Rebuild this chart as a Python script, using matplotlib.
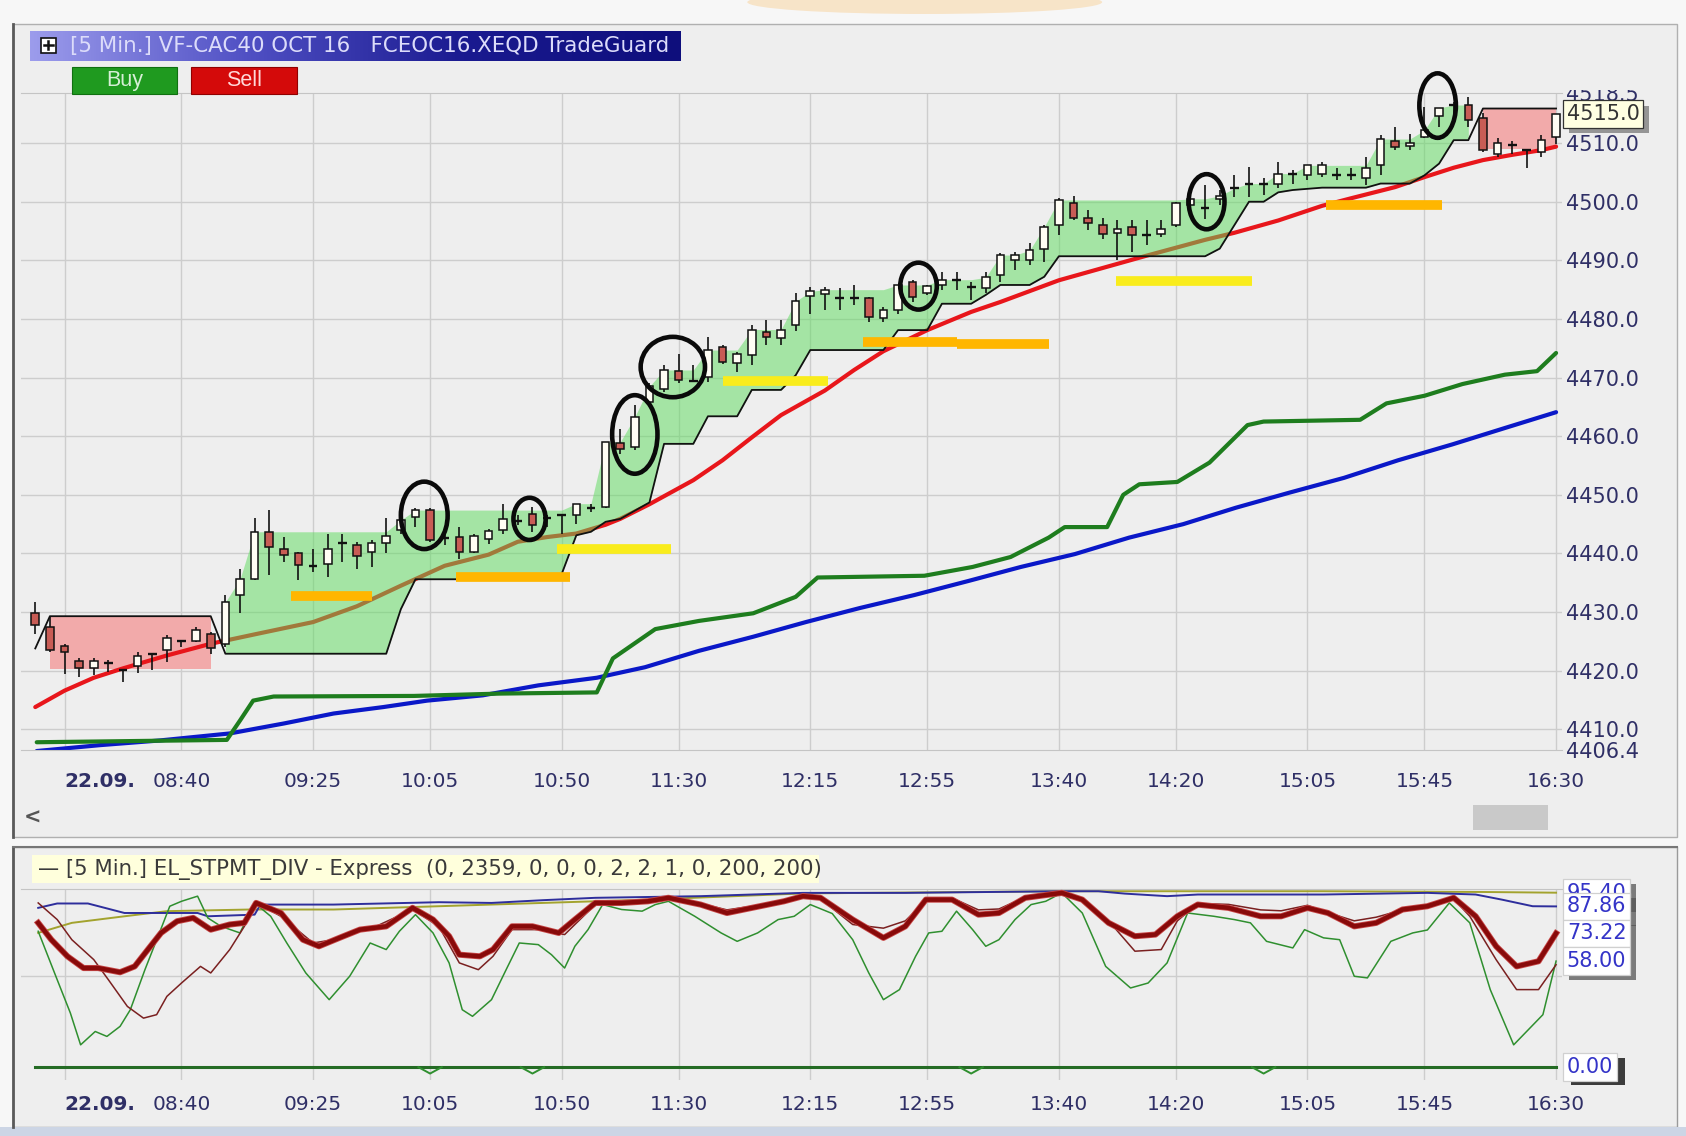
import numpy as np
import matplotlib
matplotlib.use("Agg")
import matplotlib.pyplot as plt
import matplotlib.patheffects as pe
from matplotlib.patches import Rectangle, Ellipse
from matplotlib.lines import Line2D
from matplotlib.colors import LinearSegmentedColormap

# layout positions are measured in pixels of the 1568x1056 reference view
W, H = 1568.0, 1056.0


def fx(x):
    return x / W


def fy(y):
    return 1.0 - y / H


# ---------------- price panel data (5 min bars, bar 0 = 08:00) ----------------
bars = np.arange(-2, 103)
opens = [4429.9, 4427.5, 4424.3, 4421.7, 4420.4, 4421.3, 4420.1, 4420.8, 4422.9, 4423.6, 4425.1, 4425.1, 4426.2,
         4424.6, 4432.9, 4435.7, 4443.7, 4440.7, 4440.0, 4437.8, 4438.2, 4441.8, 4441.4, 4440.3, 4441.8, 4444.0,
         4446.3, 4447.4, 4442.6, 4442.8, 4440.3, 4442.4, 4444.0, 4445.5, 4446.8, 4446.0, 4446.5, 4446.5, 4447.8,
         4447.9, 4458.9, 4458.2, 4465.9, 4468.1, 4471.1, 4469.5, 4470.1, 4475.2, 4472.5, 4473.8, 4477.8, 4476.7,
         4479.0,
         4483.9, 4484.2, 4483.5, 4483.5, 4483.5, 4480.1, 4481.5, 4486.3, 4484.4, 4485.8, 4486.6, 4485.5, 4485.2,
         4487.5, 4490.1, 4490.1, 4492.0, 4496.0, 4499.7, 4497.2, 4496.0, 4494.6, 4495.7, 4494.3, 4494.5, 4496.0,
         4499.5, 4499.0, 4500.5, 4502.3,
         4503.1, 4503.1, 4503.1, 4504.8, 4504.5, 4504.8, 4504.6, 4504.5, 4504.1, 4506.3, 4510.3, 4509.5, 4511.1,
         4514.7, 4516.5, 4516.5, 4514.2, 4508.1, 4509.6, 4508.8, 4508.5, 4511.1]
highs = [4431.7, 4429.2, 4424.5, 4422.1, 4422.1, 4421.8, 4420.2, 4423.2, 4423.0, 4426.1, 4425.2, 4427.5, 4426.6,
         4432.9, 4437.4, 4446.0, 4447.4, 4442.8, 4440.3, 4440.8, 4443.4, 4443.4, 4442.0, 4442.3, 4446.0, 4446.5,
         4447.7, 4447.7, 4443.5, 4444.5, 4443.4, 4444.2, 4448.5, 4446.5, 4447.9, 4446.5, 4446.6, 4448.5, 4448.5,
         4459.0, 4461.3, 4465.3, 4469.0, 4472.1, 4474.1, 4472.1, 4477.0, 4475.5, 4474.4, 4478.9, 4479.8, 4479.8,
         4484.5,
         4485.5, 4485.5, 4485.2, 4485.8, 4483.8, 4482.1, 4485.8, 4486.6, 4485.8, 4488.0, 4488.0, 4486.3, 4488.0,
         4491.2, 4491.5, 4492.9, 4496.0, 4500.6, 4501.0, 4498.6, 4497.2, 4496.9, 4496.9, 4496.9, 4496.9, 4500.0,
         4501.5, 4502.8, 4502.0, 4504.5,
         4505.9, 4504.0, 4506.8, 4505.4, 4506.2, 4506.8, 4505.7, 4505.7, 4507.7, 4511.4, 4512.8, 4511.6, 4516.2,
         4516.0, 4517.0, 4517.9, 4515.1, 4510.8, 4510.3, 4508.8, 4511.4, 4514.8]
lows = [4426.3, 4423.2, 4419.5, 4418.9, 4419.2, 4419.8, 4418.1, 4419.6, 4420.1, 4421.5, 4424.1, 4424.9, 4422.9,
        4424.1, 4429.8, 4435.4, 4436.3, 4438.6, 4435.4, 4436.9, 4436.0, 4438.6, 4437.4, 4437.7, 4440.0, 4443.4,
        4444.5, 4442.0, 4441.5, 4439.1, 4440.0, 4441.7, 4443.4, 4444.8, 4443.7, 4444.5, 4443.4, 4445.1, 4447.1,
        4447.7, 4457.0, 4457.6, 4465.5, 4467.6, 4469.0, 4469.3, 4469.3, 4472.4, 4471.0, 4472.1, 4475.5, 4475.5,
        4478.0,
        4480.9, 4481.5, 4481.5, 4482.4, 4479.5, 4479.5, 4480.9, 4482.9, 4484.1, 4484.9, 4484.9, 4483.2, 4484.4,
        4486.3, 4488.3, 4489.2, 4489.8, 4494.3, 4496.9, 4495.2, 4493.7, 4490.0, 4491.5, 4492.6, 4494.0, 4495.7,
        4498.5, 4497.1, 4499.5, 4500.8,
        4500.8, 4501.1, 4502.3, 4503.1, 4503.7, 4504.2, 4503.7, 4503.7, 4502.8, 4504.5, 4508.8, 4508.8, 4510.8,
        4512.8, 4515.0, 4512.8, 4508.5, 4507.7, 4508.2, 4505.7, 4507.7, 4509.9]
closes = [4427.8, 4423.5, 4423.2, 4420.4, 4421.7, 4421.3, 4420.1, 4422.5, 4422.9, 4425.5, 4425.1, 4427.0, 4423.8,
          4431.7, 4435.6, 4443.7, 4441.1, 4439.7, 4438.0, 4437.8, 4440.7, 4441.8, 4439.5, 4441.8, 4442.9, 4445.7,
          4447.4, 4442.3, 4442.6, 4440.3, 4442.9, 4443.8, 4445.9, 4445.5, 4444.8, 4446.0, 4446.5, 4448.5, 4447.8,
          4459.0, 4457.9, 4463.3, 4468.5, 4471.3, 4469.6, 4469.5, 4474.7, 4472.7, 4474.1, 4478.2, 4477.0, 4478.1,
          4483.0,
          4484.7, 4485.0, 4483.5, 4483.5, 4480.4, 4481.6, 4485.8, 4483.8, 4485.6, 4486.7, 4486.6, 4485.5, 4487.1,
          4490.9, 4490.9, 4491.7, 4495.7, 4500.3, 4497.2, 4496.4, 4494.5, 4495.4, 4494.3, 4494.3, 4495.3, 4499.7,
          4500.5, 4499.0, 4501.0, 4502.3,
          4503.1, 4503.1, 4504.8, 4504.8, 4506.2, 4506.2, 4504.6, 4504.5, 4505.7, 4510.7, 4509.4, 4510.1, 4512.2,
          4516.0, 4516.5, 4513.9, 4508.8, 4510.0, 4509.6, 4508.8, 4510.5, 4515.0]

# TradeGuard trailing stop (black stepped line), one value per bar
stop = [4423.8,
        4429.3, 4429.3, 4429.3, 4429.3, 4429.3, 4429.3, 4429.3, 4429.3, 4429.3, 4429.3, 4429.3, 4429.3,
        4422.9, 4422.9, 4422.9, 4422.9, 4422.9, 4422.9, 4422.9, 4422.9, 4422.9, 4422.9, 4422.9, 4422.9,
        4430.5,
        4435.6, 4435.6, 4435.6, 4435.6, 4435.6, 4435.6, 4435.6, 4435.6, 4435.6, 4435.6,
        4436.5, 4443.1, 4443.7, 4445.4, 4445.9, 4447.3, 4448.7, 4458.7, 4458.7, 4458.7, 4463.4, 4463.4,
        4463.4, 4467.9, 4467.9, 4467.9, 4470.4,
        4474.7, 4474.7, 4474.7, 4474.7, 4474.7, 4474.7,
        4478.1, 4478.1, 4478.1, 4482.6, 4482.6, 4482.6, 4484.1, 4485.8, 4485.8, 4485.8, 4487.2,
        4490.7, 4490.7, 4490.7, 4490.7, 4490.7, 4490.7, 4490.7, 4490.7, 4490.7, 4490.7, 4490.7,
        4492.0, 4496.0, 4500.0, 4500.0, 4501.6, 4502.0, 4502.2, 4502.4, 4502.4, 4502.4, 4502.4,
        4503.1, 4503.1, 4503.1, 4504.5, 4506.5, 4510.5, 4510.5,
        4515.9, 4515.9, 4515.9, 4515.9, 4515.9, 4515.9]
red_zones = [(-1, 10, 4420.3), (97, 102, 4509.0)]   # first bar, last bar, floor
green_zone = (11, 96)

# moving average (red), long averages (green, blue)
ma_x = [-2, 0, 2, 4, 7, 10, 13, 17, 20, 23, 26, 29, 31, 33, 35, 37, 38, 40, 43, 45, 47, 49, 52, 54, 56, 59,
        62, 64, 68, 71, 74, 78, 80, 83, 86, 88, 91, 93, 95, 97, 99, 101, 102]
ma_y = [4413.8, 4416.6, 4418.8, 4420.4, 4422.6, 4424.6, 4426.2, 4428.3, 4431.0, 4434.5, 4437.9, 4439.8,
        4442.0, 4442.8, 4443.4, 4444.9, 4445.9, 4448.4, 4452.5, 4455.9, 4459.8, 4463.6, 4467.8, 4471.3,
        4474.5, 4478.1, 4481.2, 4482.9, 4486.6, 4488.7, 4490.8, 4493.5, 4494.7, 4496.8, 4499.3, 4500.6,
        4502.5, 4504.2, 4505.8, 4507.1, 4508.0, 4508.8, 4509.4]
gma_x = [-1.9, 11.1, 12.0, 12.9, 14.3, 23.9, 29.8, 36.4, 37.5, 40.4, 43.4, 47.1, 50.0, 51.5, 58.8, 62.1,
         64.7, 67.3, 68.4, 71.3, 72.4, 73.5, 76.1, 78.3, 80.9, 82.0, 88.6, 90.4, 93.0, 95.6, 98.5, 100.7, 102.0]
gma_y = [4407.8, 4408.2, 4411.5, 4414.9, 4415.6, 4415.7, 4416.1, 4416.3, 4422.1, 4427.1, 4428.5, 4429.8,
         4432.6, 4435.9, 4436.2, 4437.7, 4439.4, 4442.7, 4444.5, 4444.5, 4450.0, 4451.8, 4452.2, 4455.5,
         4461.9, 4462.5, 4462.8, 4465.6, 4466.9, 4468.9, 4470.5, 4471.1, 4474.2]
bma_x = [-1.9, 2.4, 6.5, 11.3, 15.0, 18.4, 21.8, 24.8, 28.6, 32.4, 36.4, 39.7, 43.4, 47.1, 50.7, 54.4, 58.1,
         61.8, 65.4, 69.1, 72.8, 76.5, 80.1, 83.8, 87.5, 91.2, 94.9, 98.5, 102.0]
bma_y = [4406.3, 4407.3, 4408.1, 4409.3, 4411.0, 4412.7, 4413.8, 4414.9, 4415.8, 4417.5, 4418.8, 4420.6,
         4423.4, 4425.8, 4428.3, 4430.7, 4432.9, 4435.3, 4437.7, 4439.9, 4442.7, 4445.0, 4447.8, 4450.4,
         4452.9, 4455.9, 4458.6, 4461.4, 4464.1]

# hand drawn support marks: first bar, last bar, price, kind (o = orange, y = yellow)
levels = [(15.5, 21.0, 4432.7, "o"), (26.8, 34.6, 4436.0, "o"), (33.7, 41.5, 4440.7, "y"),
          (45.0, 52.2, 4469.5, "y"), (54.6, 61.0, 4476.1, "o"), (61.0, 67.3, 4475.8, "o"),
          (71.9, 81.2, 4486.5, "y"), (86.3, 94.2, 4499.4, "o")]
# hand drawn circles: bar, price, width (bars), height (points)
circles = [(24.6, 4446.5, 3.2, 11.5), (31.8, 4445.9, 2.2, 7.2), (39.0, 4460.3, 3.1, 13.4),
           (41.6, 4471.8, 4.4, 10.3), (58.4, 4485.6, 2.5, 8.0), (78.1, 4500.0, 2.45, 9.4),
           (93.9, 4516.4, 2.5, 11.0)]

tick_bars = [0, 8, 17, 25, 34, 42, 51, 59, 68, 76, 85, 93, 102]
tick_labels = ["22.09.", "08:40", "09:25", "10:05", "10:50", "11:30", "12:15", "12:55", "13:40", "14:20",
               "15:05", "15:45", "16:30"]
price_grid = [4410.0, 4420.0, 4430.0, 4440.0, 4450.0, 4460.0, 4470.0, 4480.0, 4490.0, 4500.0, 4510.0]
price_low, price_high = 4406.4, 4518.5
last_price = 4515.0

# ---------------- oscillator panel data ----------------
osc_thick_x = [-1.8, -0.9, 0.2, 1.3, 2.3, 3.8, 4.8, 5.7, 6.6, 7.7, 8.8, 10.0, 11.3, 12.3, 13.1, 14.8, 16.3,
               17.4, 18.8, 20.2, 22.0, 23.8, 25.2, 26.3, 27.0, 28.4, 29.3, 30.6, 32.0, 33.8, 34.9, 36.3, 38.1,
               39.9, 41.3, 43.5, 45.3, 47.0, 49.2, 50.5, 51.7, 53.9, 56.0, 57.5, 58.9, 60.7, 62.5, 63.9, 65.7,
               68.2, 69.6, 71.4, 73.2, 74.6, 76.1, 77.5, 79.6, 81.8, 83.2, 85.0, 86.4, 88.2, 89.7, 91.5, 93.2,
               95.0, 96.5, 97.9, 99.3, 100.8, 102.0]
osc_thick_y = [78.9, 69.7, 60.6, 54.2, 54.2, 51.9, 55.1, 64.3, 73.4, 79.8, 81.6, 75.2, 78.0, 78.9, 89.8, 84.3,
               69.7, 66.1, 70.7, 75.2, 77.0, 87.1, 80.7, 71.6, 61.5, 60.6, 64.3, 77.0, 77.0, 73.4, 80.7, 89.8,
               89.8, 90.7, 92.6, 88.9, 84.3, 87.1, 90.7, 93.5, 92.6, 80.7, 70.7, 77.0, 91.6, 91.6, 83.4, 84.3,
               92.6, 95.3, 91.6, 78.9, 71.6, 72.5, 82.5, 88.9, 87.1, 82.5, 82.5, 87.1, 84.3, 77.0, 78.9, 86.2,
               88.0, 92.6, 82.5, 66.1, 55.1, 57.9, 73.2]
osc_thin_x = [-1.8, -0.5, 0.5, 2.0, 3.0, 4.3, 5.4, 6.3, 7.0, 8.0, 9.3, 10.0, 11.3, 12.3, 13.1, 14.8, 17.0,
              18.4, 21.3, 23.8, 25.6, 27.0, 28.3, 29.3, 30.6, 32.4, 34.2, 36.3, 38.1, 39.9, 41.3, 43.5, 45.3,
              47.0, 49.2, 50.5, 51.7, 53.9, 56.0, 57.5, 58.9, 60.7, 62.5, 63.9, 65.7, 68.2, 69.6, 71.4, 73.2,
              75.0, 76.1, 77.5, 79.6, 81.8, 83.2, 85.0, 86.4, 88.2, 89.7, 91.5, 93.2, 95.0, 96.1, 97.9, 99.3,
              100.8, 102.0]
osc_thin_y = [89.8, 80.7, 69.7, 58.8, 47.8, 33.2, 26.8, 28.7, 38.7, 46.0, 55.1, 51.5, 64.3, 77.0, 89.8, 82.5,
              67.9, 69.7, 77.0, 86.2, 77.0, 57.0, 53.3, 60.6, 75.2, 75.2, 72.5, 88.9, 89.5, 90.5, 92.0, 89.5,
              86.0, 88.0, 91.0, 93.0, 92.0, 78.0, 76.0, 80.0, 91.0, 92.5, 86.0, 86.5, 93.0, 95.3, 92.5, 80.0,
              63.4, 64.3, 80.0, 89.5, 89.0, 86.0, 85.5, 88.5, 84.5, 80.0, 82.0, 86.0, 88.5, 92.0, 82.5, 58.8,
              42.4, 42.4, 56.0]
osc_green_x = [-1.8, -0.5, 0.4, 1.1, 2.1, 2.9, 3.8, 4.5, 5.5, 6.4, 7.2, 8.0, 9.1, 9.8, 10.7, 12.0, 13.0, 14.1,
               15.2, 16.5, 18.1, 19.5, 20.9, 22.0, 22.9, 24.0, 25.2, 26.3, 27.2, 27.9, 29.2, 30.2, 31.1, 32.4,
               33.3, 34.2, 34.9, 35.8, 36.8, 38.1, 39.5, 40.4, 41.3, 43.1, 44.9, 46.0, 47.4, 48.8, 49.9, 51.0,
               52.5, 53.9, 55.0, 56.0, 57.1, 58.2, 59.1, 60.0, 61.0, 62.1, 63.0, 63.9, 65.0, 66.1, 67.1, 68.2,
               69.6, 71.2, 72.9, 74.1, 75.4, 76.8, 78.6, 80.0, 81.1, 82.2, 84.0, 84.8, 86.1, 87.2, 88.2, 89.1,
               90.7, 92.2, 93.2, 94.7, 96.1, 97.5, 99.1, 101.1, 102.0]
osc_green_y = [74.3, 47.8, 29.6, 12.2, 19.5, 16.8, 22.3, 31.4, 53.3, 71.6, 88.0, 90.7, 93.5, 81.6, 77.0, 73.4,
               89.8, 82.5, 67.9, 51.5, 36.9, 49.7, 67.9, 64.3, 74.3, 83.4, 73.4, 57.0, 31.4, 27.8, 36.9, 53.3,
               67.9, 67.0, 61.5, 54.2, 66.1, 75.2, 88.9, 86.2, 85.3, 88.9, 90.7, 82.5, 73.4, 68.8, 73.4, 80.7,
               82.5, 88.9, 84.0, 69.7, 51.5, 36.9, 42.4, 60.6, 73.4, 74.3, 85.3, 75.2, 66.1, 69.7, 80.7, 88.9,
               90.7, 95.3, 84.3, 55.1, 43.3, 46.0, 57.0, 84.3, 82.5, 80.7, 78.9, 68.8, 65.2, 75.2, 70.7, 69.7,
               49.7, 48.8, 68.8, 73.4, 75.0, 89.8, 78.9, 42.4, 12.2, 28.7, 58.0]
osc_blue_x = [-1.8, -0.5, 1.6, 4.1, 5.9, 7.7, 9.1, 9.8, 13.0, 13.4, 18.4, 23.4, 25.6, 29.2, 32.7, 36.3, 43.5,
              50.5, 57.5, 68.2, 70.7, 72.5, 75.4, 77.5, 86.1, 93.2, 96.5, 98.3, 100.4, 102.0]
osc_blue_y = [87.1, 89.5, 89.5, 84.3, 84.3, 84.3, 84.3, 82.5, 83.4, 88.9, 88.9, 89.8, 90.2, 89.8, 91.3, 92.6,
              93.5, 95.3, 95.3, 96.2, 96.2, 94.9, 93.5, 94.4, 94.4, 95.3, 94.4, 91.6, 88.0, 87.9]
osc_olive_x = [-1.8, 0.5, 4.1, 7.0, 12.7, 18.4, 25.6, 32.7, 39.9, 50.5, 68.2, 86.1, 96.8, 102.0]
osc_olive_y = [73.4, 78.9, 82.5, 85.3, 86.2, 86.2, 88.0, 89.8, 91.6, 95.0, 96.2, 96.2, 95.8, 95.4]
div_bars = [25, 32, 62, 82]
osc_tags = [95.40, 87.86, 73.22, 58.00]

# ---------------- figure ----------------
plt.rcParams["font.family"] = ["DejaVu Sans"]
fig = plt.figure(figsize=(16.86, 11.36), dpi=100)
fig.patch.set_facecolor("#f7f7f7")
PANEL = "#eeeeee"
NAVY = "#2f2f66"


def frect(x0, y0, x1, y1, **kw):
    r = Rectangle((fx(x0), fy(y1)), fx(x1) - fx(x0), (y1 - y0) / H, transform=fig.transFigure, **kw)
    fig.add_artist(r)
    return r


def fline(xs, ys, **kw):
    fig.add_artist(Line2D([fx(v) for v in xs], [fy(v) for v in ys], transform=fig.transFigure, **kw))


# window chrome
fig.add_artist(Ellipse((fx(860), fy(2)), fx(330), 22 / H, transform=fig.transFigure,
                       fc="#f8dcb4", ec="none", alpha=0.7, zorder=-2))
frect(12, 22, 1560, 778, fc=PANEL, ec="#b0b0b0", lw=1, zorder=-1)
frect(12, 787, 1560, 1048, fc=PANEL, ec="#9a9a9a", lw=1, zorder=-1)
frect(0, 1048, 1568, 1056, fc="#ccd5e5", ec="none", zorder=-1)
fline([12, 12], [22, 778], color="#5a5a5a", lw=2, zorder=2)
fline([12, 12], [787, 1048], color="#5a5a5a", lw=2, zorder=2)
fline([12, 1560], [787, 787], color="#777777", lw=1.5, zorder=2)
frect(1370, 748, 1440, 772, fc="#c9c9c9", ec="none", zorder=2)
fig.text(fx(30), fy(760), "<", fontsize=15, fontweight="bold", color="#555555", ha="center", va="center")

# title bar with gradient
tb = fig.add_axes([fx(28), fy(57), fx(633) - fx(28), 28 / H])
grad = np.linspace(0, 1, 256)[None, :]
tb.imshow(grad, aspect="auto", extent=(0, 1, 0, 1),
          cmap=LinearSegmentedColormap.from_list("tb", ["#9c9cec", "#5050c4", "#1a1a90", "#0e0e7c"]))
tb.axis("off")
frect(38, 35, 52, 49, fc="white", ec="#111111", lw=1.2, zorder=5)
fline([41, 49], [42, 42], color="#111111", lw=1.8, zorder=6)
fline([45, 45], [38, 46], color="#111111", lw=1.8, zorder=6)
fig.text(fx(65), fy(43), "[5 Min.] VF-CAC40 OCT 16   FCEOC16.XEQD TradeGuard",
         fontsize=15.4, color="#dcdcfa", ha="left", va="center", zorder=6)
frect(67, 62, 165, 87, fc="#1f9a1f", ec="#107010", lw=0.8, zorder=5)
frect(178, 62, 276, 87, fc="#d40a0a", ec="#900000", lw=0.8, zorder=5)
fig.text(fx(116), fy(75), "Buy", family="Liberation Sans", fontsize=15.5, color="#d6efd6",
         ha="center", va="center", zorder=6)
fig.text(fx(227), fy(75), "Sell", family="Liberation Sans", fontsize=15.5, color="#ffd8d8",
         ha="center", va="center", zorder=6)

# ---------------- price panel ----------------
ax = fig.add_axes([fx(19.2), fy(697.6), fx(1452.6) - fx(19.2), (697.6 - 86.7) / H])
ax.set_facecolor(PANEL)
ax.set_xlim(-3, 102.4)
ax.set_ylim(price_low, price_high)
for s in ("left", "right"):
    ax.spines[s].set_visible(False)
for s in ("top", "bottom"):
    ax.spines[s].set_color("#c4c4c4")
for b in tick_bars:
    ax.axvline(b, color="#cdcdcd", lw=1, zorder=0.5)
for p in price_grid:
    ax.axhline(p, color="#cdcdcd", lw=1, zorder=0.5)

o = np.array(opens)
hi = np.array(highs)
lo = np.array(lows)
c = np.array(closes)
st = np.array(stop)

for b0, b1, floor in red_zones:
    m = (bars >= b0) & (bars <= b1)
    ax.fill_between(bars[m], floor, st[m], color="#f2aaaa", lw=0, zorder=1)

ax.plot(bma_x, bma_y, color="#0a18c8", lw=3, zorder=2, solid_capstyle="round")
ax.plot(gma_x, gma_y, color="#1e7d1e", lw=3, zorder=2, solid_capstyle="round")
ax.plot(ma_x, ma_y, color="#e8161b", lw=3, zorder=2, solid_capstyle="round")

g = (bars >= green_zone[0]) & (bars <= green_zone[1])
ax.fill_between(bars[g], st[g], np.maximum.accumulate(c[g]), color="#5cdc5c", alpha=0.5, lw=0, zorder=3)
ax.plot(bars, st, color="#111111", lw=1.3, zorder=4)

level_colors = {"o": "#ffb600", "y": "#f9ec1c"}
for x0, x1, p, kind in levels:
    ax.plot([x0, x1], [p, p], color=level_colors[kind], lw=7, solid_capstyle="butt", zorder=4.5)

# candles
up = c >= o
body_lo = np.minimum(o, c)
body_h = np.abs(c - o)
ax.vlines(bars, lo, hi, color="#111111", lw=1.2, zorder=5)
solid = body_h >= 0.3
ax.bar(bars[solid], body_h[solid], bottom=body_lo[solid], width=0.52,
       color=np.where(up[solid], "#fffdf4", "#c85c55"), edgecolor="#111111", linewidth=1.1, zorder=6)
ax.hlines(o[~solid], bars[~solid] - 0.3, bars[~solid] + 0.3, color="#111111", lw=1.7, zorder=6)

for x, p, w, h in circles:
    ax.add_patch(Ellipse((x, p), w, h, fill=False, ec="#0a0a0a", lw=3.3, zorder=8, clip_on=False))

ax.set_xticks(tick_bars)
labs = ax.set_xticklabels(tick_labels)
labs[0].set_fontweight("bold")
labs[0].set_ha("left")
ax.tick_params(axis="x", length=0, pad=15.5, labelsize=14.5, labelcolor=NAVY)
ax.yaxis.tick_right()
ax.set_yticks([price_low] + price_grid + [price_high])
ax.set_yticklabels(["%.1f" % v for v in [price_low] + price_grid + [price_high]])
ax.tick_params(axis="y", length=0, pad=2.6, labelsize=15, labelcolor=NAVY)
# top of the 4518.5 label is hidden by the panel edge in the original
frect(1453, 62, 1545, 84, fc=PANEL, ec="none", zorder=3)


def tag(axis, y, s, fc, ec, tc, shadow, off=(4, -4), z=20):
    t = axis.text(1.0 + 4.5 / 1433.4, y, s, transform=axis.get_yaxis_transform(), ha="left", va="center",
                  fontsize=15, color=tc, zorder=z, clip_on=False,
                  bbox=dict(boxstyle="square,pad=0.18", fc=fc, ec=ec, lw=0.9))
    t.get_bbox_patch().set_path_effects([pe.SimplePatchShadow(offset=off, shadow_rgbFace=shadow, alpha=0.75),
                                         pe.Normal()])
    return t


tag(ax, last_price, "%.1f" % last_price, "#ffffe2", "#333333", "#333333", "#777777")

# ---------------- oscillator panel ----------------
frect(30, 795, 762, 821, fc="#ffffdc", ec="none", zorder=1)
fig.text(fx(35), fy(808.5), "\u2014 [5 Min.] EL_STPMT_DIV - Express  (0, 2359, 0, 0, 0, 2, 2, 1, 0, 200, 200)",
         fontsize=15.3, color="#3a3a3a", ha="left", va="center", zorder=2)

ax2 = fig.add_axes([fx(19.2), fy(1004), fx(1452.6) - fx(19.2), (1004 - 826) / H])
ax2.set_facecolor(PANEL)
ax2.set_xlim(-3, 102.4)
ax2.set_ylim(-7.06, 97.65)
for s in ("left", "right", "bottom"):
    ax2.spines[s].set_visible(False)
ax2.spines["top"].set_color("#c4c4c4")
for b in tick_bars:
    ax2.axvline(b, color="#cdcdcd", lw=1, zorder=0.5)
ax2.axhline(50, color="#cdcdcd", lw=1, zorder=0.5)

ax2.plot(osc_olive_x, osc_olive_y, color="#a3a32e", lw=1.4, zorder=2)
ax2.plot(osc_blue_x, osc_blue_y, color="#2e2e9c", lw=1.4, zorder=2)
ax2.plot(osc_green_x, osc_green_y, color="#2f8f2f", lw=1.1, zorder=3)
ax2.plot(osc_thin_x, osc_thin_y, color="#7a2020", lw=1.1, zorder=3)
ax2.plot(osc_thick_x, osc_thick_y, color="#880a0a", lw=3.2, zorder=4,
         path_effects=[pe.Stroke(linewidth=4.4, foreground="#c84848"), pe.Normal()])
ax2.plot([-2, 102], [0, 0], color="#246b24", lw=2.2, zorder=3)
for b in div_bars:
    ax2.plot([b - 0.8, b, b + 0.8], [0, -3.5, 0], color="#2f8f2f", lw=1.4, zorder=3)

ax2.set_xticks(tick_bars)
labs2 = ax2.set_xticklabels(tick_labels)
labs2[0].set_fontweight("bold")
labs2[0].set_ha("left")
ax2.tick_params(axis="x", length=0, pad=10.7, labelsize=14.5, labelcolor=NAVY)
ax2.set_yticks([])

for i, v in enumerate(osc_tags):
    tag(ax2, v, "%.2f" % v, "white", "#d0d0d0", "#3434c8", "#555555", z=20 + i)
tag(ax2, 0.0, "0.00", "white", "#d0d0d0", "#3434c8", "#000000", off=(6, -3), z=25)

fig.savefig("out.png", dpi=100, facecolor=fig.get_facecolor())
